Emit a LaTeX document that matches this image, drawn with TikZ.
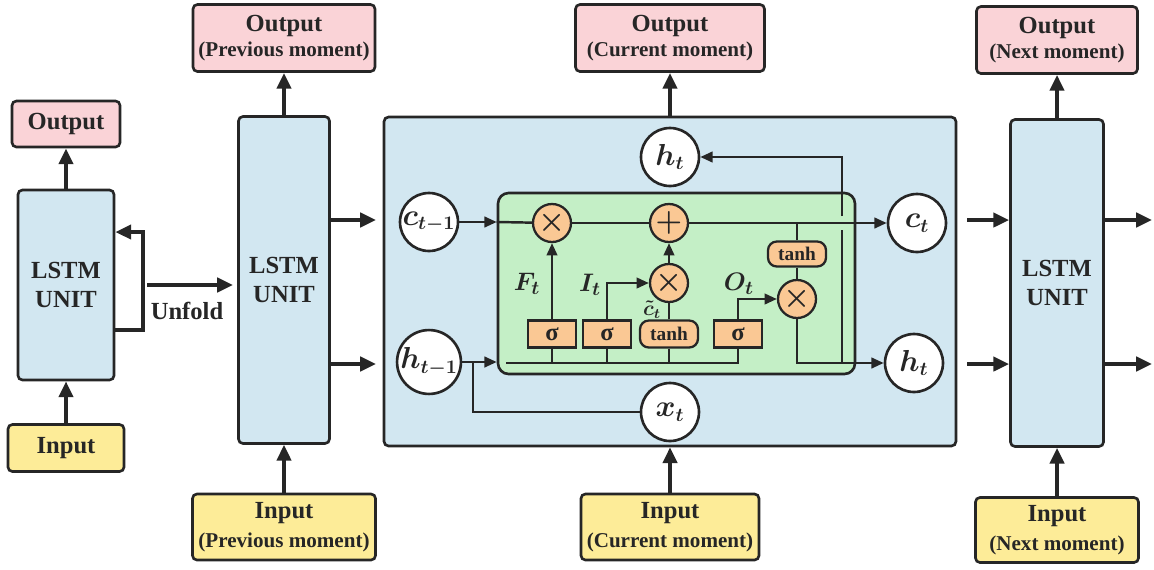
\documentclass[tikz,border=0pt]{standalone}
\usepackage{amsmath}
\usepackage{fontspec}
\setmainfont{Liberation Serif}
\usepackage{tikz}
\usetikzlibrary{calc,arrows.meta}
\definecolor{linec}{HTML}{262626}
\definecolor{pinkbox}{HTML}{FAD3D7}
\definecolor{bluebox}{HTML}{D2E7F1}
\definecolor{yellowbox}{HTML}{FDEC98}
\definecolor{greenbox}{HTML}{C4EFC6}
\definecolor{peach}{HTML}{FAC894}
\tikzset{
  box/.style={draw=linec,line width=1.5pt,rounded corners=2.5pt,align=center,text=linec,inner sep=0pt,
    font=\bfseries\fontsize{14}{16.5}\selectfont},
  outbox/.style={box,fill=pinkbox},
  inbox/.style={box,fill=yellowbox},
  unitbox/.style={box,fill=bluebox},
  statec/.style={circle,draw=linec,line width=1.5pt,fill=white,minimum size=1.16cm,inner sep=0pt,
    text=linec,font=\boldmath\fontsize{16}{16}\selectfont},
  op/.style={circle,draw=linec,line width=1.3pt,fill=peach,minimum size=0.76cm,inner sep=0pt,
    text=linec,font=\boldmath\fontsize{18}{18}\selectfont},
  gate/.style={draw=linec,line width=1.3pt,fill=peach,minimum width=0.96cm,minimum height=0.54cm,
    inner sep=0pt,text=linec,font=\bfseries\fontsize{14}{14}\selectfont},
  act/.style={gate,rounded corners=5pt,minimum width=1.16cm,font=\bfseries\fontsize{11}{11}\selectfont},
  wire/.style={draw=linec,line width=1.4pt},
  warr/.style={wire,-{Triangle[length=7pt,width=6pt]}},
  bigarr/.style={draw=linec,line width=2.4pt,-{Triangle[length=9pt,width=8pt]}},
  sym/.style={inner sep=0pt,text=linec,font=\boldmath\fontsize{15}{15}\selectfont}
}
\newcommand{\moment}[1]{{\fontsize{12}{14}\selectfont(#1 moment)}}

\begin{document}
\begin{tikzpicture}[x=0.02cm,y=-0.02cm]
\useasboundingbox (0,0) rectangle (1154,569);

\node[outbox,minimum width=2.16cm,minimum height=0.92cm] (out0) at (66,124) {Output};
\node[unitbox,minimum width=1.92cm,minimum height=3.8cm] (unit0) at (66,285) {LSTM\\UNIT};
\node[inbox,minimum width=2.32cm,minimum height=0.94cm] (in0) at (66,448) {Input};
\coordinate (lp1) at (143,330);
\coordinate (lp2) at (143,232);
\draw[bigarr] (unit0.east |- lp1) -- (lp1) -- (lp2) -- (unit0.east |- lp2);
\coordinate (uf1) at (147,285);
\coordinate (uf2) at (233,285);
\draw[bigarr] (uf1) -- (uf2);
\node[text=linec,font=\bfseries\fontsize{14}{14}\selectfont] (unfold) at (187,311) {Unfold};

\node[outbox,minimum width=3.64cm,minimum height=1.34cm] (out1) at (284,38) {Output\\[-2pt]\moment{Previous}};
\node[unitbox,minimum width=1.82cm,minimum height=6.54cm] (unit1) at (284,280) {LSTM\\UNIT};
\node[inbox,minimum width=3.66cm,minimum height=1.32cm] (in1) at (284,527) {Input\\\moment{Previous}};

\node[unitbox,minimum width=11.44cm,minimum height=6.58cm] (cell) at (670,281.5) {};
\node[outbox,minimum width=3.78cm,minimum height=1.34cm] (out2) at (670,38) {Output\\[-2pt]\moment{Current}};
\node[inbox,minimum width=3.56cm,minimum height=1.32cm] (in2) at (670,527) {Input\\\moment{Current}};

\node[outbox,minimum width=3.22cm,minimum height=1.34cm] (out3) at (1057,40) {Output\\[-2pt]\moment{Next}};
\node[unitbox,minimum width=1.86cm,minimum height=6.54cm] (unit3) at (1057,283) {LSTM\\UNIT};
\node[inbox,minimum width=3.26cm,minimum height=1.3cm] (in3) at (1057,530) {Input\\\moment{Next}};

\foreach \u in {0,1,2,3}{
  \ifnum\u=2
    \draw[bigarr] (in2) -- (cell);
    \draw[bigarr] (cell) -- (out2);
  \else
    \draw[bigarr] (in\u) -- (unit\u);
    \draw[bigarr] (unit\u) -- (out\u);
  \fi}
\foreach \y/\k in {220/c,364/h}{
  \coordinate (l\k) at (330,\y);
  \coordinate (m\k) at (376,\y);
  \coordinate (r\k) at (967,\y);
  \coordinate (s\k) at (1152,\y);
  \draw[bigarr] (unit1.east |- l\k) -- (m\k);
  \draw[bigarr] (r\k) -- (unit3.west |- r\k);
  \draw[bigarr] (unit3.east |- s\k) -- (s\k);}

\node[draw=linec,line width=1.5pt,fill=greenbox,rounded corners=6pt,minimum width=7.14cm,minimum height=3.62cm] (gbox) at (676.5,283.5) {};
\node[statec] (cprev) at (429,222) {$c_{t-1}$};
\node[statec] (hprev) at (429,362) {$h_{t-1}$};
\node[statec] (htop) at (670,157) {$h_t$};
\node[statec] (xt) at (670,412) {$x_t$};
\node[statec] (ct) at (917,223) {$c_t$};
\node[statec] (hout) at (914,363) {$h_t$};

\node[op] (fx) at (552,223) {$\times$};
\node[op] (add) at (669,223) {$+$};
\node[op] (ix) at (669,283) {$\times$};
\node[op] (ox) at (797,299) {$\times$};
\node[gate] (sgf) at (552,334) {σ};
\node[gate] (sgi) at (607,334) {σ};
\node[act] (tnc) at (669,334) {tanh};
\node[gate] (sgo) at (738,334) {σ};
\node[act,minimum height=0.5cm] (tnh) at (797,254) {tanh};

\draw[warr] (cprev) -- (gbox.west |- cprev);
\draw[wire] (gbox.west |- cprev) -- (fx);
\draw[wire] (fx) -- (add);
\draw[warr] (add) -- (ct);
\draw[warr] (hprev) -- (gbox.west |- hprev);
\coordinate (bus) at (506,363);
\draw[wire] (bus) -| (sgo);
\foreach \g in {sgf,sgi,tnc} \draw[wire] (\g) -- (\g |- bus);
\coordinate (xj) at (473,362);
\draw[wire] (xt) -| (xj);
\draw[warr] (sgf) -- (fx);
\draw[warr] (sgi) |- (ix);
\draw[wire] (tnc) -- (ix);
\draw[warr] (ix) -- (add);
\draw[warr] (sgo) |- (ox);
\draw[wire] (tnh) -- (tnh |- add);
\draw[wire] (tnh) -- (ox);
\draw[warr] (ox) |- (hout);
\coordinate (tap) at (842,363);
\coordinate (hop1) at (842,230);
\coordinate (hop2) at (842,216);
\draw[wire] (tap) -- (hop1);
\draw[warr] (hop2) |- (htop);

\node[sym] (lf) at (527,284) {$F_t$};
\node[sym] (li) at (590,285) {$I_t$};
\node[sym,font=\boldmath\fontsize{12}{12}\selectfont] (lc) at (652,310) {$\tilde{c}_t$};
\node[sym] (lo) at (739,284) {$O_t$};
\end{tikzpicture}
\end{document}
